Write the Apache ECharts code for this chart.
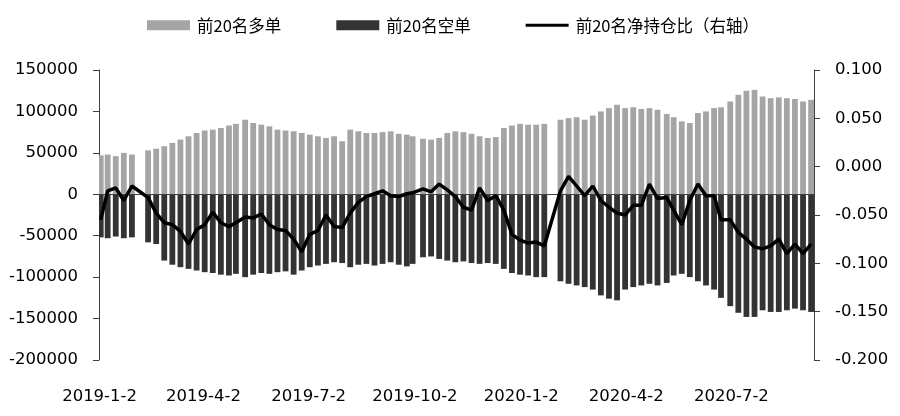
<!DOCTYPE html>
<html><head><meta charset="utf-8">
<script src="https://cdn.jsdelivr.net/npm/echarts@6/dist/echarts.min.js"></script>
<style>html,body{margin:0;padding:0;background:#fff}#c{width:900px;height:416px}</style>
</head><body><div id="c"></div>
<script>
// x-axis tick labels (calendar-day category axis)
const xTickLabels = ['2019-1-2','2019-4-2','2019-7-2','2019-10-2','2020-1-2','2020-4-2','2020-7-2'];
// one bar per trading week, placed on the week's middle day
const weekDates = [
 '2019-1-3','2019-1-9','2019-1-16','2019-1-23','2019-1-30','2019-2-13','2019-2-20','2019-2-27',
 '2019-3-6','2019-3-13','2019-3-20','2019-3-27','2019-4-3','2019-4-10','2019-4-17','2019-4-24','2019-4-30',
 '2019-5-8','2019-5-15','2019-5-22','2019-5-29','2019-6-5','2019-6-12','2019-6-19','2019-6-26',
 '2019-7-3','2019-7-10','2019-7-17','2019-7-24','2019-7-31','2019-8-7','2019-8-14','2019-8-21','2019-8-28',
 '2019-9-4','2019-9-11','2019-9-18','2019-9-25','2019-9-30','2019-10-9','2019-10-16','2019-10-23','2019-10-30',
 '2019-11-6','2019-11-13','2019-11-20','2019-11-27','2019-12-4','2019-12-11','2019-12-18','2019-12-25',
 '2020-1-1','2020-1-8','2020-1-15','2020-1-22','2020-2-5','2020-2-12','2020-2-19','2020-2-26',
 '2020-3-4','2020-3-11','2020-3-18','2020-3-25','2020-4-1','2020-4-8','2020-4-15','2020-4-22','2020-4-29',
 '2020-5-7','2020-5-13','2020-5-20','2020-5-27','2020-6-3','2020-6-10','2020-6-17','2020-6-23',
 '2020-7-1','2020-7-8','2020-7-15','2020-7-22','2020-7-29','2020-8-5','2020-8-12','2020-8-19','2020-8-26',
 '2020-9-2','2020-9-9'
];
// 前20名多单 (lots)
const longVals = [
 47000,48000,46000,50000,48000,53000,55000,58000,
 62000,66000,70000,74000,77000,78000,80000,83000,85000,
 90000,86000,84000,82000,78000,77000,76000,74000,
 72000,70000,68000,70000,64000,78000,76000,74000,74000,
 75000,76000,73000,72000,70000,67000,66000,68000,74000,
 76000,75000,73000,70000,68000,69000,80000,83000,
 85000,84000,84000,85000,90000,92000,93000,90000,
 95000,100000,104000,108000,104000,105000,103000,104000,102000,
 97000,93000,88000,86000,98000,100000,104000,105000,
 112000,120000,125000,126000,118000,116000,117000,116000,115000,
 112000,114000
];
// 前20名空单 (lots, negative)
const shortVals = [
 -52000,-53000,-51000,-53000,-52000,-58000,-60000,-80000,
 -85000,-88000,-90000,-92000,-94000,-95000,-97000,-98000,-96000,
 -100000,-97000,-95000,-96000,-94000,-93000,-97000,-92000,
 -88000,-86000,-84000,-82000,-83000,-88000,-85000,-84000,-86000,
 -84000,-82000,-85000,-87000,-84000,-76000,-75000,-78000,-80000,
 -82000,-81000,-83000,-84000,-83000,-84000,-90000,-95000,
 -97000,-98000,-100000,-100000,-105000,-108000,-110000,-112000,
 -115000,-122000,-126000,-128000,-115000,-112000,-110000,-108000,-110000,
 -107000,-98000,-96000,-100000,-105000,-110000,-115000,-125000,
 -135000,-143000,-148000,-148000,-140000,-142000,-142000,-140000,-138000,
 -140000,-142000
];
// 前20名净持仓比（右轴）
const ratioVals = [
 -0.055,-0.025,-0.022,-0.035,-0.020,-0.032,-0.048,-0.058,
 -0.060,-0.067,-0.080,-0.065,-0.060,-0.047,-0.058,-0.062,-0.058,
 -0.052,-0.053,-0.049,-0.060,-0.065,-0.066,-0.075,-0.088,
 -0.070,-0.066,-0.050,-0.062,-0.063,-0.048,-0.037,-0.031,-0.028,
 -0.025,-0.030,-0.031,-0.028,-0.027,-0.023,-0.026,-0.018,-0.024,
 -0.031,-0.042,-0.045,-0.022,-0.035,-0.030,-0.045,-0.070,
 -0.076,-0.079,-0.078,-0.082,-0.025,-0.010,-0.020,-0.030,
 -0.020,-0.035,-0.042,-0.048,-0.050,-0.040,-0.040,-0.018,-0.033,
 -0.032,-0.045,-0.060,-0.035,-0.018,-0.030,-0.030,-0.055,
 -0.055,-0.068,-0.075,-0.083,-0.085,-0.082,-0.075,-0.090,-0.080,
 -0.090,-0.080
];

// calendar-day categories
const days = [];
for (let d = new Date(2019, 0, 2); d <= new Date(2020, 8, 11); d.setDate(d.getDate() + 1)) {
  days.push(d.getFullYear() + '-' + (d.getMonth() + 1) + '-' + d.getDate());
}
function spread(vals) {
  const out = days.map(() => null);
  weekDates.forEach((w, i) => { const k = days.indexOf(w); if (k >= 0) out[k] = vals[i]; });
  return out;
}
const axisColor = '#404040';
const numFont = 'DejaVu Sans';
const chart = echarts.init(document.getElementById('c'));
chart.setOption({
  animation: false,
  backgroundColor: '#fff',
  legend: {
    left: 142, top: 12, itemWidth: 43, itemHeight: 10, itemGap: 55,
    textStyle: { fontSize: 16.5, color: '#000', fontFamily: 'Noto Sans CJK SC', padding: [0, 0, 0, 2] },
    data: [
      { name: '前20名多单', icon: 'rect' },
      { name: '前20名空单', icon: 'rect' },
      { name: '前20名净持仓比（右轴）', icon: 'path://M0,0L43,0L43,3.2L0,3.2Z' }
    ]
  },
  grid: { left: 99, right: 86, top: 70, bottom: 56 },
  xAxis: {
    type: 'category', data: days, boundaryGap: true,
    axisLine: { show: false }, axisTick: { show: false }, splitLine: { show: false },
    axisLabel: {
      interval: (i, v) => xTickLabels.includes(v),
      margin: 28, fontSize: 16.5, color: '#000', fontFamily: numFont, hideOverlap: false
    }
  },
  yAxis: [
    {
      type: 'value', min: -200000, max: 150000, interval: 50000,
      axisLine: { show: true, lineStyle: { color: axisColor } },
      axisTick: { show: true, length: 6, lineStyle: { color: axisColor } },
      splitLine: { show: false },
      axisLabel: { fontSize: 16.5, color: '#000', fontFamily: numFont, margin: 21,
        formatter: v => String(v) }
    },
    {
      type: 'value', position: 'right', min: -0.2, max: 0.1, interval: 0.05,
      axisLine: { show: true, lineStyle: { color: axisColor } },
      axisTick: { show: true, length: 6, lineStyle: { color: axisColor } },
      splitLine: { show: false },
      axisLabel: { fontSize: 16.5, color: '#000', fontFamily: numFont, margin: 21,
        formatter: v => v.toFixed(3) }
    }
  ],
  series: [
    {
      name: '前20名多单', type: 'bar', stack: 'oi', data: spread(longVals), barWidth: 5.8,
      itemStyle: { color: '#a5a5a5' },
      markLine: {
        silent: true, symbol: ['none', 'none'], label: { show: false },
        lineStyle: { color: axisColor, width: 1, type: 'solid' },
        data: [{ yAxis: 0 }]
      }
    },
    {
      name: '前20名空单', type: 'bar', stack: 'oi', data: spread(shortVals), barWidth: 5.8,
      itemStyle: { color: '#333333' }
    },
    {
      name: '前20名净持仓比（右轴）', type: 'line', yAxisIndex: 1, data: spread(ratioVals),
      connectNulls: true, symbol: 'none', showSymbol: false, z: 5,
      lineStyle: { color: '#000', width: 3.5 }, itemStyle: { color: '#000' }
    }
  ]
});
</script>
</body></html>
